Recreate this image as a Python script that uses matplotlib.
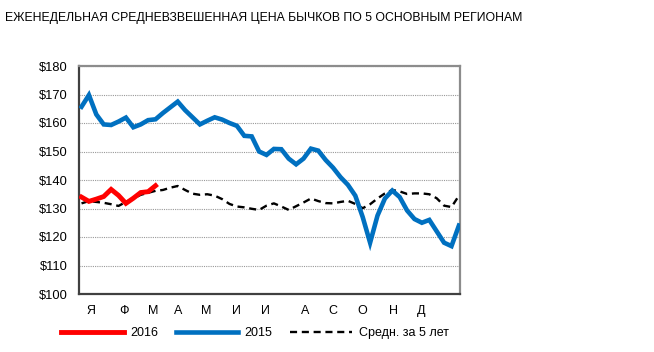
import numpy as np
import matplotlib
matplotlib.use('Agg')
import matplotlib.pyplot as plt

plt.rcParams['font.family'] = ['Liberation Sans', 'DejaVu Sans']

# weekly prices, $ per cwt
prices_2016 = [134.0, 132.5, 133.3, 134.2, 136.7, 134.6, 131.8, 133.6, 135.6, 135.9, 138.0]
prices_2015 = [165.7, 169.8, 163.0, 159.5, 159.3, 160.5, 161.9, 158.5, 159.5, 161.0,
               161.3, 163.5, 165.5, 167.5, 164.5, 162.0, 159.5, 160.8, 162.0, 161.2,
               160.0, 159.0, 155.5, 155.3, 150.0, 148.8, 150.9, 150.8, 147.5, 145.5,
               147.5, 151.0, 150.3, 147.0, 144.3, 141.0, 138.3, 134.5, 127.0, 118.0,
               127.5, 133.5, 136.3, 134.0, 129.3, 126.3, 125.0, 126.0, 122.0, 118.0,
               116.8, 124.0]
avg_5y = [131.8, 132.6, 132.3, 132.0, 131.5, 130.9, 132.3, 133.5, 134.8, 135.5,
          136.2, 136.5, 137.3, 137.9, 136.5, 135.2, 134.8, 135.0, 134.5, 133.3,
          131.6, 130.7, 130.4, 129.9, 129.5, 131.0, 131.8, 130.7, 129.5, 130.8,
          132.1, 133.5, 132.6, 131.9, 131.8, 132.3, 132.7, 131.6, 130.1, 131.5,
          133.5, 135.3, 136.5, 136.0, 135.1, 135.3, 135.3, 135.0, 133.6, 131.0,
          130.5, 134.5]
month_labels = ['Я', 'Ф', 'М', 'А', 'М', 'И', 'И', 'А', 'С', 'О', 'Н', 'Д']
y_ticks = [100, 110, 120, 130, 140, 150, 160, 170, 180]

# where the month labels sit along the week axis (layout only)
month_pos = [1.3, 5.7, 9.7, 13.0, 16.9, 20.9, 24.9, 30.2, 34.0, 38.0, 42.1, 45.9]

fig = plt.figure(figsize=(6.54, 3.52), dpi=100)
ax = fig.add_axes([79/654, 58/352, 381/654, 228/352])

ax.plot(np.arange(len(avg_5y)), avg_5y, color='black', lw=1.7,
        dashes=(3, 2), label='Средн. за 5 лет', zorder=3)
ax.plot(np.arange(len(prices_2015)), prices_2015, color='#0070C0', lw=3.3,
        solid_joinstyle='miter', label='2015', zorder=4)
ax.plot(np.arange(len(prices_2016)), prices_2016, color='#FF0000', lw=3.5,
        solid_joinstyle='miter', label='2016', zorder=5)

ax.set_xlim(-0.34, 51.15)
ax.set_ylim(100, 180)
ax.set_yticks(y_ticks)
ax.set_yticklabels([f'${v}' for v in y_ticks], fontsize=9.3)
ax.set_xticks(month_pos)
ax.set_xticklabels(month_labels, fontsize=9)
ax.tick_params(length=0, pad=8)
ax.tick_params(axis='x', pad=8)
ax.yaxis.grid(True, color='#999999', linestyle=(0, (1, 1)), lw=0.8)
ax.set_axisbelow(True)

for s in ['left', 'bottom']:
    ax.spines[s].set_color('#404040')
    ax.spines[s].set_linewidth(1.6)
for s in ['top', 'right']:
    ax.spines[s].set_color('#8c8c8c')
    ax.spines[s].set_linewidth(1.6)

fig.text(5/654, 1 - 18/352, 'ЕЖЕНЕДЕЛЬНАЯ СРЕДНЕВЗВЕШЕННАЯ ЦЕНА БЫЧКОВ ПО 5 ОСНОВНЫМ РЕГИОНАМ',
         fontsize=8.8, va='center', ha='left')

h, l = ax.get_legend_handles_labels()
order = [2, 1, 0]
fig.legend([h[i] for i in order], [l[i] for i in order], ncol=3, frameon=False,
           loc='center', bbox_to_anchor=(255/654, 1 - 333/352), fontsize=9,
           handlelength=5.0, columnspacing=1.4, handletextpad=0.5)

fig.savefig('out.png', dpi=100, facecolor='white')
